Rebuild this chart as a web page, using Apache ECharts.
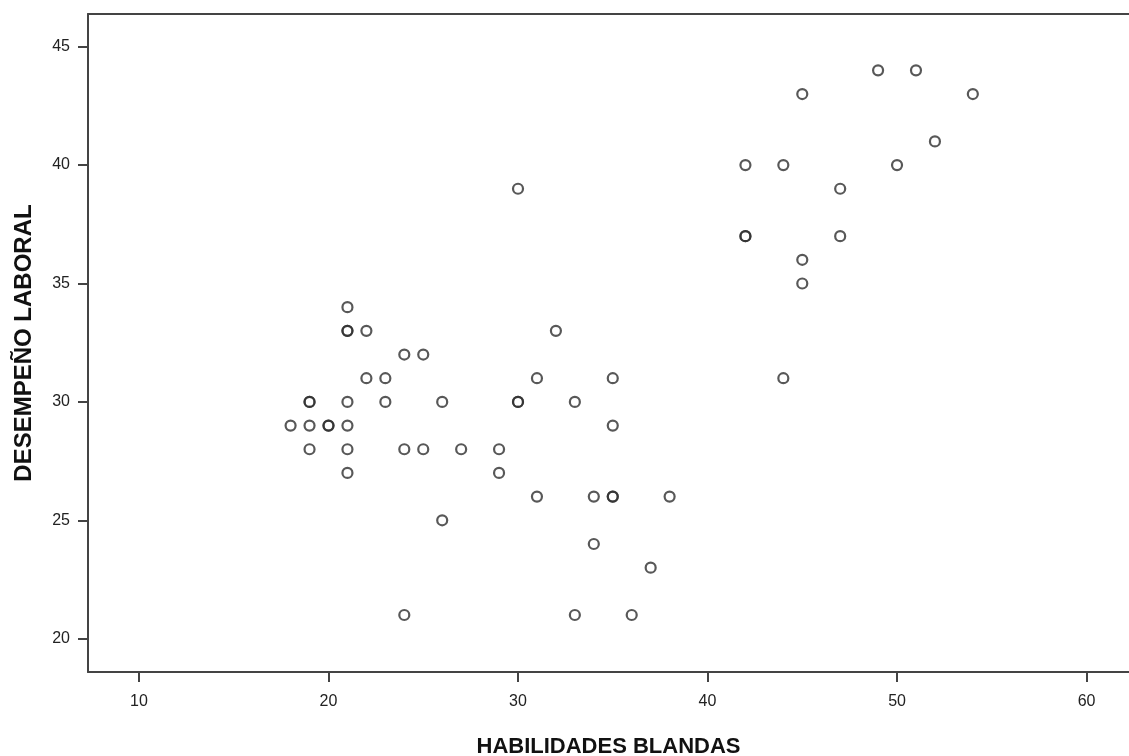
<!DOCTYPE html>
<html>
<head>
<meta charset="utf-8">
<script src="https://cdn.jsdelivr.net/npm/echarts@6/dist/echarts.min.js"></script>
<style>
html,body{margin:0;padding:0;background:#fff;}
#chart{width:1129px;height:756px;}
</style>
</head>
<body>
<div id="chart"></div>
<script>
// HABILIDADES BLANDAS (x) vs DESEMPEÑO LABORAL (y)
const habilidades = [18,19,19,19,19,20,20,21,21,21,21,21,21,21,22,22,23,23,24,24,24,25,25,26,26,27,29,29,30,30,30,31,31,32,33,33,34,34,35,35,35,35,36,37,38,42,42,42,44,44,45,45,45,47,47,49,50,51,52,54];
const desempeno   = [29,30,30,29,28,29,29,34,33,33,30,29,28,27,33,31,31,30,32,28,21,32,28,30,25,28,28,27,39,30,30,31,26,33,30,21,26,24,31,29,26,26,21,23,26,40,37,37,40,31,43,36,35,39,37,44,40,44,41,43];
const xTicks = [10,20,30,40,50,60];
const yTicks = [20,25,30,35,40,45];
const xName = 'HABILIDADES BLANDAS';
const yName = 'DESEMPEÑO LABORAL';

const points = habilidades.map((v, i) => [v, desempeno[i]]);
const FONT = '"Liberation Sans", Arial, sans-serif';
const AXC = '#444';

const chart = echarts.init(document.getElementById('chart'), null, {renderer: 'canvas'});
chart.setOption({
  animation: false,
  backgroundColor: '#fff',
  grid: {left: 88, right: 0, top: 14, bottom: 84, containLabel: false, outerBoundsMode: 'none'},
  xAxis: [{
    type: 'value',
    min: 7.31, max: 62.24,
    name: xName,
    nameLocation: 'middle',
    nameGap: 64,
    nameTextStyle: {fontFamily: FONT, fontWeight: 'bold', fontSize: 22, color: '#111'},
    axisLine: {show: true, onZero: false, lineStyle: {color: AXC, width: 2}},
    axisTick: {show: true, length: 10, customValues: xTicks, lineStyle: {color: AXC, width: 2}},
    axisLabel: {customValues: xTicks, margin: 22, fontFamily: FONT, fontSize: 16, color: '#222'},
    splitLine: {show: false}
  }, {
    type: 'value',
    position: 'top',
    min: 7.31, max: 62.24,
    axisLine: {show: true, onZero: false, lineStyle: {color: AXC, width: 2}},
    axisTick: {show: false},
    axisLabel: {show: false},
    splitLine: {show: false}
  }],
  yAxis: {
    type: 'value',
    min: 18.594, max: 46.38,
    name: yName,
    nameLocation: 'middle',
    nameGap: 52,
    nameRotate: 90,
    nameTextStyle: {fontFamily: FONT, fontWeight: 'bold', fontSize: 24, color: '#111'},
    axisLine: {show: true, onZero: false, lineStyle: {color: AXC, width: 2}},
    axisTick: {show: true, length: 10, customValues: yTicks, lineStyle: {color: AXC, width: 2}},
    axisLabel: {customValues: yTicks, margin: 18, fontFamily: FONT, fontSize: 16, color: '#222'},
    splitLine: {show: false}
  },
  series: [{
    type: 'scatter',
    xAxisIndex: 0,
    data: points,
    symbol: 'circle',
    symbolSize: 10,
    itemStyle: {color: 'rgba(0,0,0,0)', borderColor: '#2e2e2e', borderWidth: 2.2},
    emphasis: {disabled: true}
  }]
});
</script>
</body>
</html>
